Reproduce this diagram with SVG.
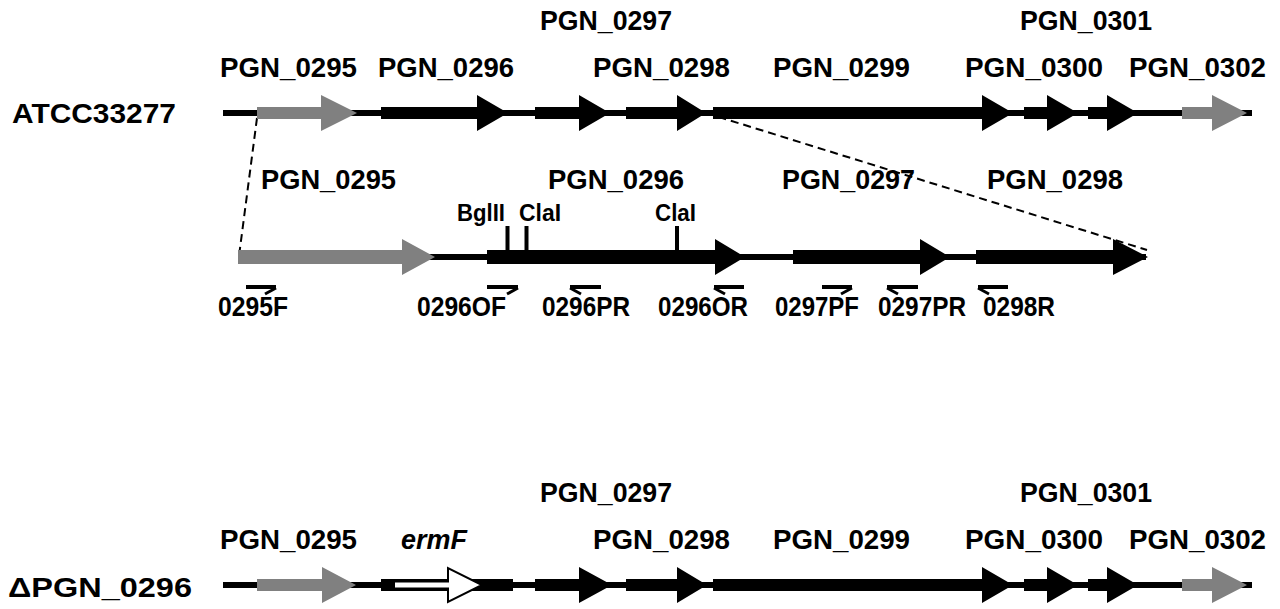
<svg xmlns="http://www.w3.org/2000/svg" width="1280" height="609" viewBox="0 0 1280 609">
<style>
.t{font-family:"Liberation Sans",Arial,sans-serif;font-weight:bold;font-size:28px;fill:#000}
.s{font-size:23px}
.p{font-size:28px}
.i{font-style:italic}
.g{fill:#808080}
.k{fill:#000}
.bb{stroke:#000;stroke-width:6;fill:none}
.ds{stroke:#000;stroke-width:2;stroke-dasharray:8 5;fill:none}
.pb{stroke:#000;stroke-width:4;fill:none}
.pk{stroke:#000;stroke-width:3;fill:none}
.rs{stroke:#000;stroke-width:4}
</style>
<rect width="1280" height="609" fill="#fff"/>

<!-- connectors: backbones and zoom dashed lines -->
<g id="connectors">
  <line class="bb" x1="223" y1="113" x2="1252" y2="113"/>
  <line class="bb" x1="240" y1="257" x2="1146" y2="257"/>
  <line class="bb" x1="223" y1="585" x2="1252" y2="585"/>
  <line class="ds" x1="257" y1="118" x2="239" y2="256"/>
  <line class="ds" x1="706" y1="113" x2="1147" y2="250"/>
</g>

<!-- strain labels -->
<g id="strain-atcc"><text class="t" x="12" y="123" textLength="164" lengthAdjust="spacingAndGlyphs">ATCC33277</text></g>
<g id="strain-delta"><text class="t" x="8" y="597" textLength="184" lengthAdjust="spacingAndGlyphs">ΔPGN_0296</text></g>

<!-- top row genes -->
<g id="top-0295"><polygon class="g" points="257,107 321,107 321,95 357,113 321,131 321,119 257,119"/><text class="t" x="220" y="77" textLength="137" lengthAdjust="spacingAndGlyphs">PGN_0295</text></g>
<g id="top-0296"><polygon class="k" points="381,107 477,107 477,95 508,113 477,131 477,119 381,119"/><text class="t" x="378" y="77" textLength="136" lengthAdjust="spacingAndGlyphs">PGN_0296</text></g>
<g id="top-0297"><polygon class="k" points="535,107 579,107 579,95 610,113 579,131 579,119 535,119"/><text class="t" x="540" y="30" textLength="132" lengthAdjust="spacingAndGlyphs">PGN_0297</text></g>
<g id="top-0298"><polygon class="k" points="626,107 677,107 677,95 706,113 677,131 677,119 626,119"/><text class="t" x="593" y="77" textLength="137" lengthAdjust="spacingAndGlyphs">PGN_0298</text></g>
<g id="top-0299"><polygon class="k" points="713,107 982,107 982,95 1013,113 982,131 982,119 713,119"/><text class="t" x="773" y="77" textLength="137" lengthAdjust="spacingAndGlyphs">PGN_0299</text></g>
<g id="top-0300"><polygon class="k" points="1024,107 1047,107 1047,95 1078,113 1047,131 1047,119 1024,119"/><text class="t" x="965" y="77" textLength="138" lengthAdjust="spacingAndGlyphs">PGN_0300</text></g>
<g id="top-0301"><polygon class="k" points="1088,107 1107,107 1107,95 1138,113 1107,131 1107,119 1088,119"/><text class="t" x="1020" y="30" textLength="132" lengthAdjust="spacingAndGlyphs">PGN_0301</text></g>
<g id="top-0302"><polygon class="g" points="1182,107 1212,107 1212,95 1247,113 1212,131 1212,119 1182,119"/><text class="t" x="1129" y="77" textLength="137" lengthAdjust="spacingAndGlyphs">PGN_0302</text></g>

<!-- middle (expanded) row -->
<g id="mid-0295"><polygon class="g" points="238,250 402,250 402,239 435,257 402,275 402,264 238,264"/><text class="t" x="261" y="189" textLength="135" lengthAdjust="spacingAndGlyphs">PGN_0295</text></g>
<g id="mid-0296"><polygon class="k" points="487,250 715,250 715,239 745,257 715,275 715,264 487,264"/><text class="t" x="548" y="189" textLength="136" lengthAdjust="spacingAndGlyphs">PGN_0296</text></g>
<g id="mid-0297"><polygon class="k" points="793,250 920,250 920,239 950,257 920,275 920,264 793,264"/><text class="t" x="782" y="189" textLength="133" lengthAdjust="spacingAndGlyphs">PGN_0297</text></g>
<g id="mid-0298"><polygon class="k" points="976,250 1113,250 1113,239 1148,257 1113,275 1113,264 976,264"/><text class="t" x="987" y="189" textLength="136" lengthAdjust="spacingAndGlyphs">PGN_0298</text></g>

<!-- restriction sites -->
<g id="site-bglII"><line class="rs" x1="507.5" y1="226" x2="507.5" y2="251"/><text class="t s" x="457" y="221" textLength="48" lengthAdjust="spacingAndGlyphs">BglII</text></g>
<g id="site-claI-1"><line class="rs" x1="526.5" y1="226" x2="526.5" y2="251"/><text class="t s" x="519" y="221" textLength="42" lengthAdjust="spacingAndGlyphs">ClaI</text></g>
<g id="site-claI-2"><line class="rs" x1="677" y1="226" x2="677" y2="251"/><text class="t s" x="655" y="221" textLength="41" lengthAdjust="spacingAndGlyphs">ClaI</text></g>

<!-- primers -->
<g id="primer-0295F"><line class="pb" x1="246" y1="287" x2="276" y2="287"/><line class="pk" x1="276" y1="288" x2="265" y2="294"/><text class="t p" x="218" y="316" textLength="70" lengthAdjust="spacingAndGlyphs">0295F</text></g>
<g id="primer-0296OF"><line class="pb" x1="487" y1="287" x2="518" y2="287"/><line class="pk" x1="518" y1="288" x2="507" y2="294"/><text class="t p" x="417" y="316" textLength="89" lengthAdjust="spacingAndGlyphs">0296OF</text></g>
<g id="primer-0296PR"><line class="pb" x1="570" y1="287" x2="601" y2="287"/><line class="pk" x1="570" y1="288" x2="581" y2="294"/><text class="t p" x="542" y="316" textLength="88" lengthAdjust="spacingAndGlyphs">0296PR</text></g>
<g id="primer-0296OR"><line class="pb" x1="714" y1="287" x2="744" y2="287"/><line class="pk" x1="714" y1="288" x2="725" y2="294"/><text class="t p" x="658" y="316" textLength="90" lengthAdjust="spacingAndGlyphs">0296OR</text></g>
<g id="primer-0297PF"><line class="pb" x1="822" y1="287" x2="852" y2="287"/><line class="pk" x1="852" y1="288" x2="841" y2="294"/><text class="t p" x="775" y="316" textLength="84" lengthAdjust="spacingAndGlyphs">0297PF</text></g>
<g id="primer-0297PR"><line class="pb" x1="887" y1="287" x2="918" y2="287"/><line class="pk" x1="887" y1="288" x2="898" y2="294"/><text class="t p" x="878" y="316" textLength="88" lengthAdjust="spacingAndGlyphs">0297PR</text></g>
<g id="primer-0298R"><line class="pb" x1="978" y1="287" x2="1008" y2="287"/><line class="pk" x1="978" y1="288" x2="989" y2="294"/><text class="t p" x="983" y="316" textLength="72" lengthAdjust="spacingAndGlyphs">0298R</text></g>

<!-- bottom row (deletion mutant) -->
<g id="bot-0295"><polygon class="g" points="257,579 322,579 322,567 356,585 322,603 322,591 257,591"/><text class="t" x="220" y="549" textLength="137" lengthAdjust="spacingAndGlyphs">PGN_0295</text></g>
<g id="bot-ermF"><rect class="k" x="381" y="579" width="132" height="12"/><polygon points="394,581.5 448,581.5 448,568 482,585 448,602 448,588.5 394,588.5" fill="#fff" stroke="#000" stroke-width="2"/><text class="t i" x="401" y="549" textLength="66" lengthAdjust="spacingAndGlyphs">ermF</text></g>
<g id="bot-0297"><polygon class="k" points="535,579 579,579 579,567 612,585 579,603 579,591 535,591"/><text class="t" x="540" y="502" textLength="132" lengthAdjust="spacingAndGlyphs">PGN_0297</text></g>
<g id="bot-0298"><polygon class="k" points="626,579 677,579 677,567 707,585 677,603 677,591 626,591"/><text class="t" x="593" y="549" textLength="137" lengthAdjust="spacingAndGlyphs">PGN_0298</text></g>
<g id="bot-0299"><polygon class="k" points="713,579 982,579 982,567 1013,585 982,603 982,591 713,591"/><text class="t" x="773" y="549" textLength="137" lengthAdjust="spacingAndGlyphs">PGN_0299</text></g>
<g id="bot-0300"><polygon class="k" points="1024,579 1047,579 1047,567 1078,585 1047,603 1047,591 1024,591"/><text class="t" x="965" y="549" textLength="138" lengthAdjust="spacingAndGlyphs">PGN_0300</text></g>
<g id="bot-0301"><polygon class="k" points="1088,579 1107,579 1107,567 1138,585 1107,603 1107,591 1088,591"/><text class="t" x="1020" y="502" textLength="132" lengthAdjust="spacingAndGlyphs">PGN_0301</text></g>
<g id="bot-0302"><polygon class="g" points="1182,579 1212,579 1212,567 1247,585 1212,603 1212,591 1182,591"/><text class="t" x="1129" y="549" textLength="137" lengthAdjust="spacingAndGlyphs">PGN_0302</text></g>
</svg>
